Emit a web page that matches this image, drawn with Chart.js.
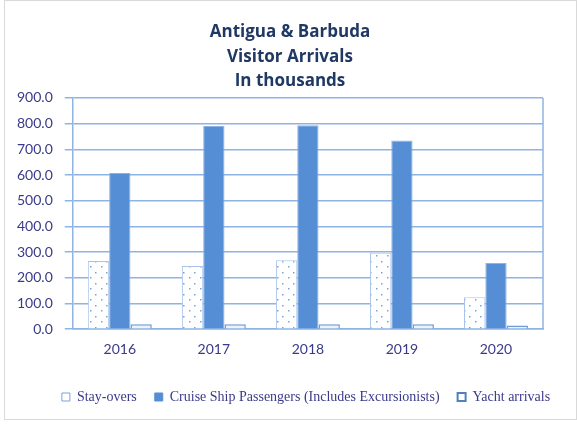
<!DOCTYPE html>
<html>
<head>
<meta charset="utf-8">
<script src="https://cdn.jsdelivr.net/npm/chart.js@4"></script>
<style>
  body { margin: 0; background: #fff; }
  #wrap { width: 577px; height: 424px; }
</style>
</head>
<body>
<div id="wrap"><canvas id="myChart" width="577" height="424"></canvas></div>
<script>
let years = ["2016", "2017", "2018", "2019", "2020"];
let stayOvers = [265, 246, 268, 298, 124];
let cruise = [608, 791, 794, 734, 258];
let yachts = [19, 19, 19, 19, 14];

function dotPattern() {
    let c = document.createElement("canvas");
    c.width = 11;
    c.height = 11;
    let g = c.getContext("2d");
    g.fillStyle = "#ffffff";
    g.fillRect(0, 0, 11, 11);
    g.fillStyle = "#7aa3d8";
    g.fillRect(2, 2, 1.5, 1.5);
    g.fillRect(7, 8, 1.5, 1.5);
    return g.createPattern(c, "repeat");
}

// frame round the whole picture, right edge of the plot, and nudge title/legend sideways
let framePlugin = {
    id: "frame",
    afterLayout(chart) {
        if (chart.titleBlock) {
            chart.titleBlock.left += 16;
            chart.titleBlock.right += 16;
        }
        if (chart.legend) {
            chart.legend.left += 32;
            chart.legend.right += 32;
        }
    },
    beforeDraw(chart) {
        let ctx = chart.ctx;
        ctx.save();
        ctx.fillStyle = "#fff";
        ctx.fillRect(0, 0, chart.width, chart.height);
        ctx.strokeStyle = "#d9d9d9";
        ctx.lineWidth = 1;
        ctx.strokeRect(4.5, 0.5, chart.width - 5, chart.height - 5);
        ctx.restore();
    },
    afterDatasetsDraw(chart) {
        let a = chart.chartArea;
        let ctx = chart.ctx;
        ctx.save();
        ctx.strokeStyle = "#8eb4e3";
        ctx.lineWidth = 1.5;
        ctx.beginPath();
        ctx.moveTo(a.right, a.top);
        ctx.lineTo(a.right, a.bottom);
        ctx.stroke();
        ctx.restore();
    }
};

let myChart = document.getElementById("myChart").getContext("2d");

let popChart = new Chart(myChart, {
    type: "bar",
    data: {
        labels: years,
        datasets: [
            {
                label: "Stay-overs",
                data: stayOvers,
                backgroundColor: dotPattern(),
                borderColor: "#a9c4eb",
                borderWidth: 1
            },
            {
                label: "Cruise Ship Passengers (Includes Excursionists)",
                data: cruise,
                backgroundColor: "#558ed5",
                borderColor: "#8eb4e3",
                borderWidth: 1
            },
            {
                label: "Yacht arrivals",
                data: yachts,
                backgroundColor: "#eef3fa",
                borderColor: "#6f9bd6",
                borderWidth: 1.5
            }
        ]
    },
    options: {
        responsive: false,
        animation: false,
        layout: { padding: { left: 5, right: 34, top: 8, bottom: 10 } },
        datasets: {
            bar: { categoryPercentage: 0.68, barPercentage: 1 }
        },
        scales: {
            x: {
                grid: { display: false },
                border: { color: "#8eb4e3", width: 1.5 },
                ticks: { color: "#3a3a8c", font: { family: "Lato", size: 14 }, padding: 4 },
                afterFit: s => { s.height += 10; }
            },
            y: {
                min: 0,
                max: 900,
                ticks: {
                    stepSize: 100,
                    color: "#3a3a8c",
                    font: { family: "Lato", size: 14 },
                    padding: 12,
                    callback: v => v.toFixed(1)
                },
                grid: { color: "#8eb4e3", lineWidth: 1.5, drawTicks: true, tickLength: 8 },
                border: { color: "#8eb4e3", width: 1.5 }
            }
        },
        plugins: {
            title: {
                display: true,
                text: ["Antigua & Barbuda", "Visitor Arrivals", "In thousands"],
                color: "#1f3864",
                font: { family: "Open Sans", size: 17, weight: "bold", lineHeight: 1.45 },
                padding: { top: 12, bottom: 4 }
            },
            legend: {
                position: "bottom",
                labels: {
                    color: "#3a3a8c",
                    font: { family: "Liberation Serif", size: 14 },
                    boxWidth: 8,
                    boxHeight: 8,
                    padding: 18,
                    generateLabels(chart) {
                        let fills = ["#ffffff", "#558ed5", "#ffffff"];
                        let strokes = ["#7aa3d8", "#558ed5", "#4f81bd"];
                        return chart.data.datasets.map((ds, i) => ({
                            text: ds.label,
                            fillStyle: fills[i],
                            strokeStyle: strokes[i],
                            lineWidth: i === 2 ? 2 : 1,
                            fontColor: "#3a3a8c",
                            datasetIndex: i
                        }));
                    }
                }
            },
            tooltip: { enabled: false }
        }
    },
    plugins: [framePlugin]
});
</script>
</body>
</html>
